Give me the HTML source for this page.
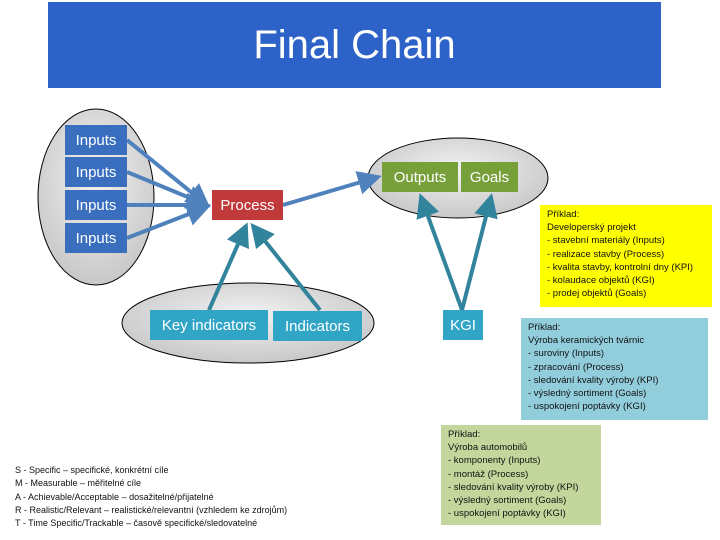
<!DOCTYPE html>
<html><head><meta charset="utf-8"><style>
body{margin:0;width:720px;height:540px;background:#fff;position:relative;overflow:hidden;font-family:"Liberation Sans",sans-serif}
.a{position:absolute}
.box{position:absolute;color:#fff;font-size:15px;display:flex;align-items:center;justify-content:center}
.note{position:absolute;font-size:9.5px;line-height:13.2px;padding:3px 7px;box-sizing:border-box;color:#111}
</style></head><body>
<div class="a" style="left:48px;top:2px;width:613px;height:86px;background:#2d62c8;color:#fff;font-size:40px;display:flex;align-items:center;justify-content:center">Final Chain</div>
<svg class="a" style="left:0;top:0" width="720" height="540">
<defs>
<radialGradient id="g" cx="50%" cy="40%" r="60%"><stop offset="0" stop-color="#f2f2f2"/><stop offset="1" stop-color="#c8c8c8"/></radialGradient>
<marker id="m" markerWidth="6" markerHeight="6" refX="5" refY="3" orient="auto"><path d="M0,0 L6,3 L0,6z" fill="#4f81bd"/></marker>
<marker id="t" markerWidth="6" markerHeight="6" refX="5" refY="3" orient="auto"><path d="M0,0 L6,3 L0,6z" fill="#31849b"/></marker>
</defs>
<ellipse cx="96" cy="197" rx="58" ry="88" fill="url(#g)" stroke="#000" stroke-width="1"/>
<ellipse cx="458" cy="178" rx="90" ry="40" fill="url(#g)" stroke="#000" stroke-width="1"/>
<ellipse cx="248" cy="323" rx="126" ry="40" fill="url(#g)" stroke="#000" stroke-width="1"/>
<g stroke="#4f81bd" stroke-width="4" marker-end="url(#m)">
<line x1="127" y1="140" x2="207" y2="205"/>
<line x1="127" y1="172" x2="207" y2="205"/>
<line x1="127" y1="205" x2="207" y2="205"/>
<line x1="127" y1="238" x2="207" y2="207"/>
<line x1="283" y1="205" x2="378" y2="177"/>
</g>
<g stroke="#31849b" stroke-width="4" marker-end="url(#t)">
<line x1="209" y1="310" x2="246" y2="226"/>
<line x1="320" y1="310" x2="253" y2="226"/>
<line x1="462" y1="310" x2="421" y2="197"/>
<line x1="462" y1="310" x2="491" y2="197"/>
</g>
</svg>
<div class="box" style="left:65px;top:125px;width:62px;height:30px;background:#3a6fc0">Inputs</div>
<div class="box" style="left:65px;top:157px;width:62px;height:30px;background:#3a6fc0">Inputs</div>
<div class="box" style="left:65px;top:190px;width:62px;height:30px;background:#3a6fc0">Inputs</div>
<div class="box" style="left:65px;top:223px;width:62px;height:30px;background:#3a6fc0">Inputs</div>
<div class="box" style="left:212px;top:190px;width:71px;height:30px;background:#c0393b">Process</div>
<div class="box" style="left:382px;top:162px;width:76px;height:30px;background:#77a03a">Outputs</div>
<div class="box" style="left:461px;top:162px;width:57px;height:30px;background:#77a03a">Goals</div>
<div class="box" style="left:150px;top:310px;width:118px;height:30px;background:#31a5c6">Key indicators</div>
<div class="box" style="left:273px;top:311px;width:89px;height:30px;background:#31a5c6">Indicators</div>
<div class="box" style="left:443px;top:310px;width:40px;height:30px;background:#31a5c6">KGI</div>
<div class="note" style="left:540px;top:205px;width:172px;height:102px;background:#ffff00">Příklad:<br>Developerský projekt<br>- stavební materiály (Inputs)<br>- realizace stavby (Process)<br>- kvalita stavby, kontrolní dny (KPI)<br>- kolaudace objektů (KGI)<br>- prodej objektů (Goals)</div>
<div class="note" style="left:521px;top:318px;width:187px;height:102px;background:#92cddc">Příklad:<br>Výroba keramických tvárnic<br>- suroviny (Inputs)<br>- zpracování (Process)<br>- sledování kvality výroby (KPI)<br>- výsledný sortiment (Goals)<br>- uspokojení poptávky (KGI)</div>
<div class="note" style="left:441px;top:425px;width:160px;height:100px;background:#c3d69b">Příklad:<br>Výroba automobilů<br>- komponenty (Inputs)<br>- montáž (Process)<br>- sledování kvality výroby (KPI)<br>- výsledný sortiment (Goals)<br>- uspokojení poptávky (KGI)</div>
<div class="note" style="left:8px;top:461px;width:340px;font-size:9px;line-height:13.3px">S - Specific – specifické, konkrétní cíle<br>M - Measurable – měřitelné cíle<br>A - Achievable/Acceptable – dosažitelné/přijatelné<br>R - Realistic/Relevant – realistické/relevantní (vzhledem ke zdrojům)<br>T - Time Specific/Trackable – časově specifické/sledovatelné</div>
</body></html>
